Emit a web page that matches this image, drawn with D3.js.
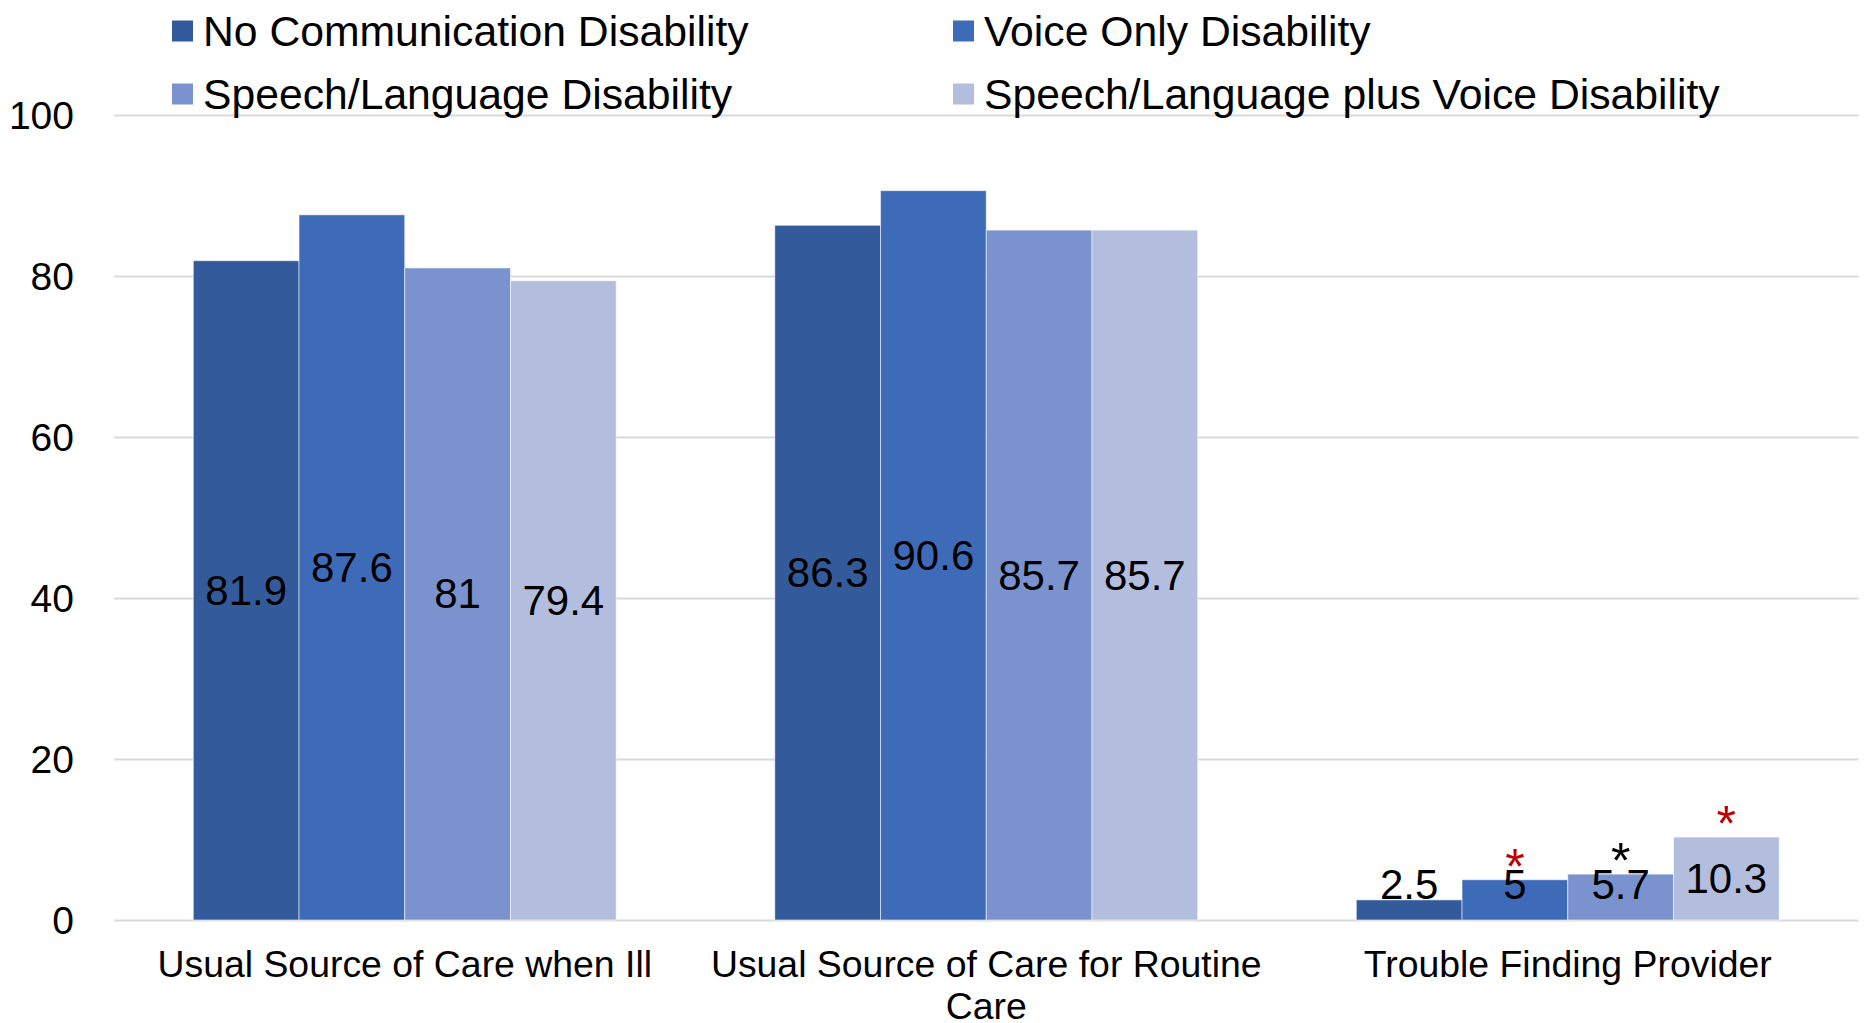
<!DOCTYPE html>
<html>
<head>
<meta charset="utf-8">
<script src="https://cdn.jsdelivr.net/npm/d3@7"></script>
<style>
  html, body { margin: 0; padding: 0; background: #ffffff; }
  svg { display: block; font-family: "Liberation Sans", Arial, sans-serif; }
</style>
</head>
<body>
<svg id="chart" width="1864" height="1023"></svg>
<script>
// Categories along the x axis
const categories = [
  "Usual Source of Care when Ill",
  "Usual Source of Care for Routine Care",
  "Trouble Finding Provider"
];

// Series names (legend order)
const seriesNames = [
  "No Communication Disability",
  "Voice Only Disability",
  "Speech/Language Disability",
  "Speech/Language plus Voice Disability"
];

// Percentages per series, one value per category
const noCommunication = [81.9, 86.3, 2.5];
const voiceOnly = [87.6, 90.6, 5];
const speechLanguage = [81, 85.7, 5.7];
const speechLanguageVoice = [79.4, 85.7, 10.3];

// Significance flags per series and category ("sig" or "marginal")
const noCommunicationFlags = ["", "", ""];
const voiceOnlyFlags = ["", "", "sig"];
const speechLanguageFlags = ["", "", "marginal"];
const speechLanguageVoiceFlags = ["", "", "sig"];

// Y axis ticks
const yTicks = [0, 20, 40, 60, 80, 100];

const seriesValues = [noCommunication, voiceOnly, speechLanguage, speechLanguageVoice];
const seriesFlags = [noCommunicationFlags, voiceOnlyFlags, speechLanguageFlags, speechLanguageVoiceFlags];
const colors = ["#335A9A", "#3E6BB8", "#7A92CE", "#B3BEDF"];
const flagColors = { sig: "#C00000", marginal: "#000000" };

const W = 1864, H = 1023;
const margin = { top: 115, right: 5.5, bottom: 103, left: 114 };

const svg = d3.select("#chart");

const x0 = d3.scaleBand()
  .domain(categories)
  .range([margin.left, W - margin.right])
  .padding(0);

const x1 = d3.scaleBand()
  .domain(d3.range(seriesNames.length))
  .range([0, x0.bandwidth()])
  .paddingInner(0)
  .paddingOuter(0.75);

const y = d3.scaleLinear()
  .domain([0, 100])
  .range([H - margin.bottom, margin.top]);

// Gridlines + y tick labels
const yAxis = svg.append("g")
  .attr("transform", `translate(${margin.left},0)`)
  .call(d3.axisLeft(y)
    .tickValues(yTicks)
    .tickSize(-(W - margin.left - margin.right))
    .tickPadding(40)
    .tickFormat(d3.format("d")));
yAxis.select(".domain").remove();
yAxis.selectAll(".tick line").attr("stroke", "#D9D9D9").attr("stroke-width", 2);
yAxis.selectAll(".tick text")
  .attr("fill", "#000")
  .style("font-size", "39px")
  .attr("dy", null)
  .attr("dominant-baseline", "central");

// Bars
const rows = [];
categories.forEach((c, ci) => {
  seriesValues.forEach((vals, si) => {
    rows.push({ category: c, series: si, value: vals[ci], flag: seriesFlags[si][ci] });
  });
});

const barG = svg.append("g");
barG.selectAll("rect")
  .data(rows)
  .join("rect")
  .attr("x", d => x0(d.category) + x1(d.series))
  .attr("y", d => y(d.value))
  .attr("width", x1.bandwidth())
  .attr("height", d => y(0) - y(d.value))
  .attr("fill", d => colors[d.series])
  .attr("stroke", "rgba(255,255,255,0.55)")
  .attr("stroke-width", 1);

// Value labels, centred in the bar, kept above the baseline
const labelSize = 42;
const minLift = 36;
svg.append("g").selectAll("text")
  .data(rows)
  .join("text")
  .attr("x", d => x0(d.category) + x1(d.series) + x1.bandwidth() / 2)
  .attr("y", d => Math.min((y(d.value) + y(0)) / 2, y(0) - minLift))
  .attr("text-anchor", "middle")
  .attr("dominant-baseline", "central")
  .style("font-size", labelSize + "px")
  .attr("fill", "#000")
  .text(d => d3.format("")(d.value));

// Significance asterisks above the bars
const asteriskSize = 50;
svg.append("g").selectAll("text")
  .data(rows.filter(d => d.flag))
  .join("text")
  .attr("x", d => x0(d.category) + x1(d.series) + x1.bandwidth() / 2)
  .attr("y", d => y(d.value) + 4)
  .attr("text-anchor", "middle")
  .style("font-size", asteriskSize + "px")
  .attr("fill", d => flagColors[d.flag])
  .text("*");

// Category labels with word wrapping
const catSize = 37.4;
const catG = svg.append("g");
categories.forEach(c => {
  const t = catG.append("text")
    .attr("text-anchor", "middle")
    .style("font-size", catSize + "px")
    .attr("fill", "#000");
  const cx = x0(c) + x0.bandwidth() / 2;
  const words = c.split(" ");
  const maxW = x0.bandwidth() - 10;
  let lines = [], line = [];
  const probe = svg.append("text").style("font-size", catSize + "px");
  words.forEach(w => {
    const test = line.concat([w]).join(" ");
    probe.text(test);
    if (probe.node().getComputedTextLength() > maxW && line.length) {
      lines.push(line.join(" "));
      line = [w];
    } else {
      line.push(w);
    }
  });
  lines.push(line.join(" "));
  probe.remove();
  lines.forEach((ln, i) => {
    t.append("tspan")
      .attr("x", cx)
      .attr("y", y(0) + 44 + i * 42)
      .attr("dominant-baseline", "central")
      .text(ln);
  });
});

// Legend in two columns
const legendSize = 42.7;
const legendCols = [172, 953];
const legendRows = [31, 94];
const legend = svg.append("g");
seriesNames.forEach((name, i) => {
  const lx = legendCols[i % 2];
  const ly = legendRows[Math.floor(i / 2)];
  legend.append("rect")
    .attr("x", lx)
    .attr("y", ly - 10.5)
    .attr("width", 21)
    .attr("height", 21)
    .attr("fill", colors[i]);
  legend.append("text")
    .attr("x", lx + 31)
    .attr("y", ly)
    .attr("dominant-baseline", "central")
    .style("font-size", legendSize + "px")
    .attr("fill", "#000")
    .text(name);
});
</script>
</body>
</html>
